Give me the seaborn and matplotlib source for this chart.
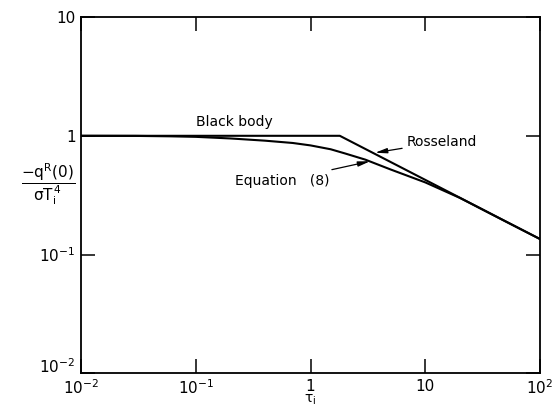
import numpy as np
import pandas as pd
import matplotlib
matplotlib.use("Agg")
import matplotlib.pyplot as plt
import seaborn as sns
from matplotlib.ticker import FixedLocator, NullLocator

# --- Data ---
# black body plateau + Rosseland straight line (one polyline)
tau_ross = [0.01, 1.8, 100]
q_ross = [1.0, 1.0, 0.135]

# Equation (8)
tau_eq8 = [0.01, 0.03, 0.06, 0.1, 0.2, 0.4, 0.7, 1.0, 1.5, 2.0, 3.0, 5.0, 10, 20, 50, 100]
q_eq8 = [1.0, 0.998, 0.99, 0.98, 0.95, 0.91, 0.87, 0.83, 0.77, 0.71, 0.63, 0.52, 0.405, 0.30, 0.19, 0.135]

xticks = [1e-2, 1e-1, 1, 10, 1e2]
xtick_labels = ['$10^{-2}$', '$10^{-1}$', '1', '10', '$10^{2}$']
yticks = [1e-2, 1e-1, 1, 10]
ytick_labels = ['$10^{-2}$', '$10^{-1}$', '1', '10']

df = pd.concat([
    pd.DataFrame({"tau": tau_ross, "q": q_ross, "curve": "Rosseland"}),
    pd.DataFrame({"tau": tau_eq8, "q": q_eq8, "curve": "Equation (8)"}),
])

# --- Plot ---
sns.set_style("ticks")
plt.rcParams['font.family'] = ['DejaVu Sans']
plt.rcParams['mathtext.fontset'] = 'dejavusans'
plt.rcParams['mathtext.default'] = 'regular'
for key in ['text.color', 'axes.labelcolor', 'xtick.color', 'ytick.color', 'axes.edgecolor']:
    plt.rcParams[key] = 'black'

fig = plt.figure(figsize=(5.59, 4.07), dpi=100)
ax = fig.add_axes([0.145, 0.083, 0.821, 0.875])

sns.lineplot(data=df, x="tau", y="q", units="curve", estimator=None,
             color="black", lw=1.5, ax=ax, legend=False)

ax.set_xscale("log")
ax.set_yscale("log")
ax.set_xlim(1e-2, 1e2)
ax.set_ylim(1e-2, 10)

ax.xaxis.set_major_locator(FixedLocator(xticks))
ax.yaxis.set_major_locator(FixedLocator(yticks))
ax.xaxis.set_minor_locator(NullLocator())
ax.yaxis.set_minor_locator(NullLocator())
ax.set_xticklabels(xtick_labels)
ax.set_yticklabels(ytick_labels)
ax.tick_params(which="major", direction="in", length=10, width=1.1,
               top=True, right=True, labelsize=11)
ax.tick_params(axis="x", pad=4)
ax.tick_params(axis="y", pad=4)
# lowest y label sits on the corner, lift it clear of the x labels
ax.get_yticklabels()[0].set_va("baseline")
for sp in ax.spines.values():
    sp.set_linewidth(1.3)

ax.set_xlabel(r'$\tau_i$', fontsize=10)
ax.xaxis.set_label_coords(0.5, -0.055)
ax.set_ylabel(r'$\dfrac{-q^R(0)}{\sigma T_i^{\,4}}$', fontsize=11, rotation=0,
              va="center", ha="center")
ax.yaxis.set_label_coords(-0.072, 0.53)

# annotations
ax.text(0.215, 1.31, "Black body", fontsize=10, ha="center", va="center")
ax.annotate("Rosseland", xy=(3.65, 0.72), xytext=(6.9, 0.89),
            fontsize=10, ha="left", va="center",
            arrowprops=dict(arrowstyle="-|>,head_width=0.15,head_length=0.7",
                            color="black", lw=0.9, shrinkA=1, shrinkB=0))
ax.annotate("Equation   (8)", xy=(3.3, 0.61), xytext=(0.22, 0.42),
            fontsize=10, ha="left", va="center",
            arrowprops=dict(arrowstyle="-|>,head_width=0.15,head_length=0.7",
                            color="black", lw=0.9, shrinkA=2, shrinkB=0))

fig.savefig("out.png", dpi=100)
